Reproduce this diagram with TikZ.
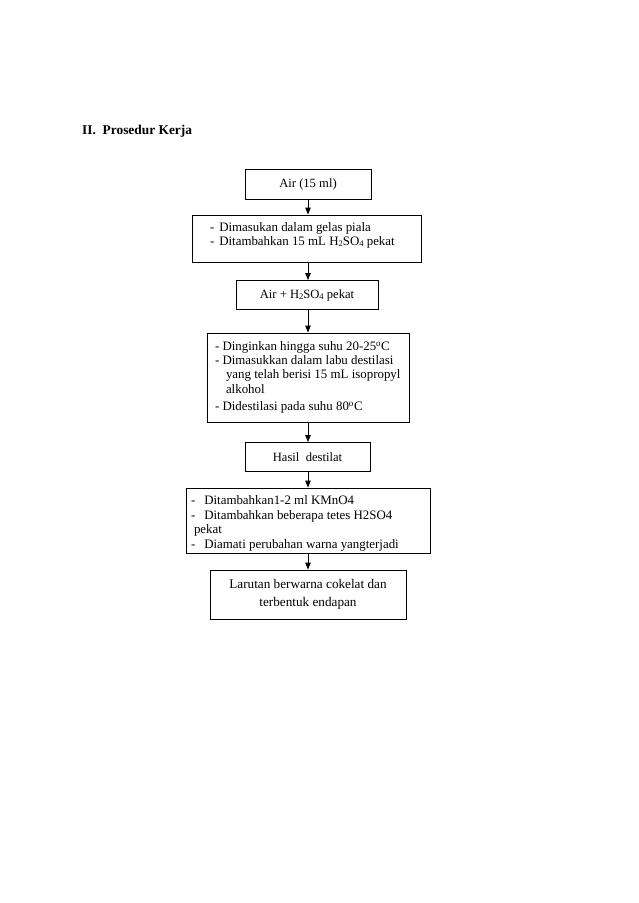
\documentclass[tikz,border=0pt]{standalone}
\usepackage{fontspec}
\setmainfont{Liberation Serif}
\usetikzlibrary{arrows.meta}
\tikzset{
  box/.style={draw, line width=0.9pt, inner sep=0pt, minimum height=#1, font=\fontsize{12.6}{14.2}\selectfont},
  lbox/.style={box=#1, inner xsep=0pt, align=flush left, font=\fontsize{12.9}{14.2}\selectfont},
  arr/.style={line width=0.9pt, -{Triangle[length=7pt,width=5.5pt]}},
}
\newcommand{\sub}[1]{\raisebox{-0.25ex}{\fontsize{8.5}{8.5}\selectfont #1}}
\begin{document}
\begin{tikzpicture}[x=1pt,y=-1pt]
\useasboundingbox (0,0) rectangle (638,903);
\node[anchor=base west, inner sep=0pt, font=\fontsize{13.4}{15}\selectfont\bfseries] (title) at (82,134) {II.\ \ Prosedur Kerja};

\node[box=30pt, minimum width=126pt] (b1) at (308,184) {Air (15 ml)};
\node[lbox=47pt, text width=229pt] (b2) at (306.5,238.5)
  {\hspace*{18pt}-\hspace{5pt}Dimasukan dalam gelas piala\\
   \hspace*{18pt}-\hspace{5pt}Ditambahkan 15 mL H\sub{2}SO\sub{4} pekat\rule[-9.7pt]{0pt}{9.7pt}};
\node[box=29pt, minimum width=142pt] (b3) at (307,295) {Air + H\sub{2}SO\sub{4} pekat};
\node[lbox=89pt, text width=202pt] (b4) at (308,377.5)
  {\hspace*{8pt}- Dinginkan hingga suhu 20-25\textsuperscript{o}C\\
   \hspace*{8pt}- Dimasukkan dalam labu destilasi\\
   \hspace*{19pt}yang telah berisi 15 mL isopropyl\\
   \hspace*{19pt}alkohol\\[3.5pt]
   \hspace*{8pt}- Didestilasi pada suhu 80\textsuperscript{o}C};
\node[lbox=65pt, text width=244pt, font=\fontsize{12.9}{14.7}\selectfont] (b6) at (308,520.5)
  {\hspace*{5pt}-\hspace{9pt}\rule{0pt}{15pt}Ditambahkan1-2 ml KMnO4\\
   \hspace*{5pt}-\hspace{9pt}Ditambahkan beberapa tetes H2SO4\\
   \hspace*{8pt}pekat\\
   \hspace*{5pt}-\hspace{9pt}Diamati perubahan warna yangterjadi};
\node[box=29pt, minimum width=125pt] (b5) at (307.5,457) {Hasil\ \ destilat};
\node[box=49pt, minimum width=196pt, align=center, font=\fontsize{13.2}{18}\selectfont] (b7) at (308,594.5)
  {Larutan berwarna cokelat dan\\terbentuk endapan};

\draw[arr] (b1.south) -- (b1.south |- b2.north);
\draw[arr] (b2.south -| b1.south) -- (b1.south |- b3.north);
\draw[arr] (b3.south -| b1.south) -- (b1.south |- b4.north);
\draw[arr] (b4.south -| b1.south) -- (b1.south |- b5.north);
\draw[arr] (b5.south -| b1.south) -- (b1.south |- b6.north);
\draw[arr] (b6.south -| b1.south) -- (b1.south |- b7.north);
\end{tikzpicture}
\end{document}
